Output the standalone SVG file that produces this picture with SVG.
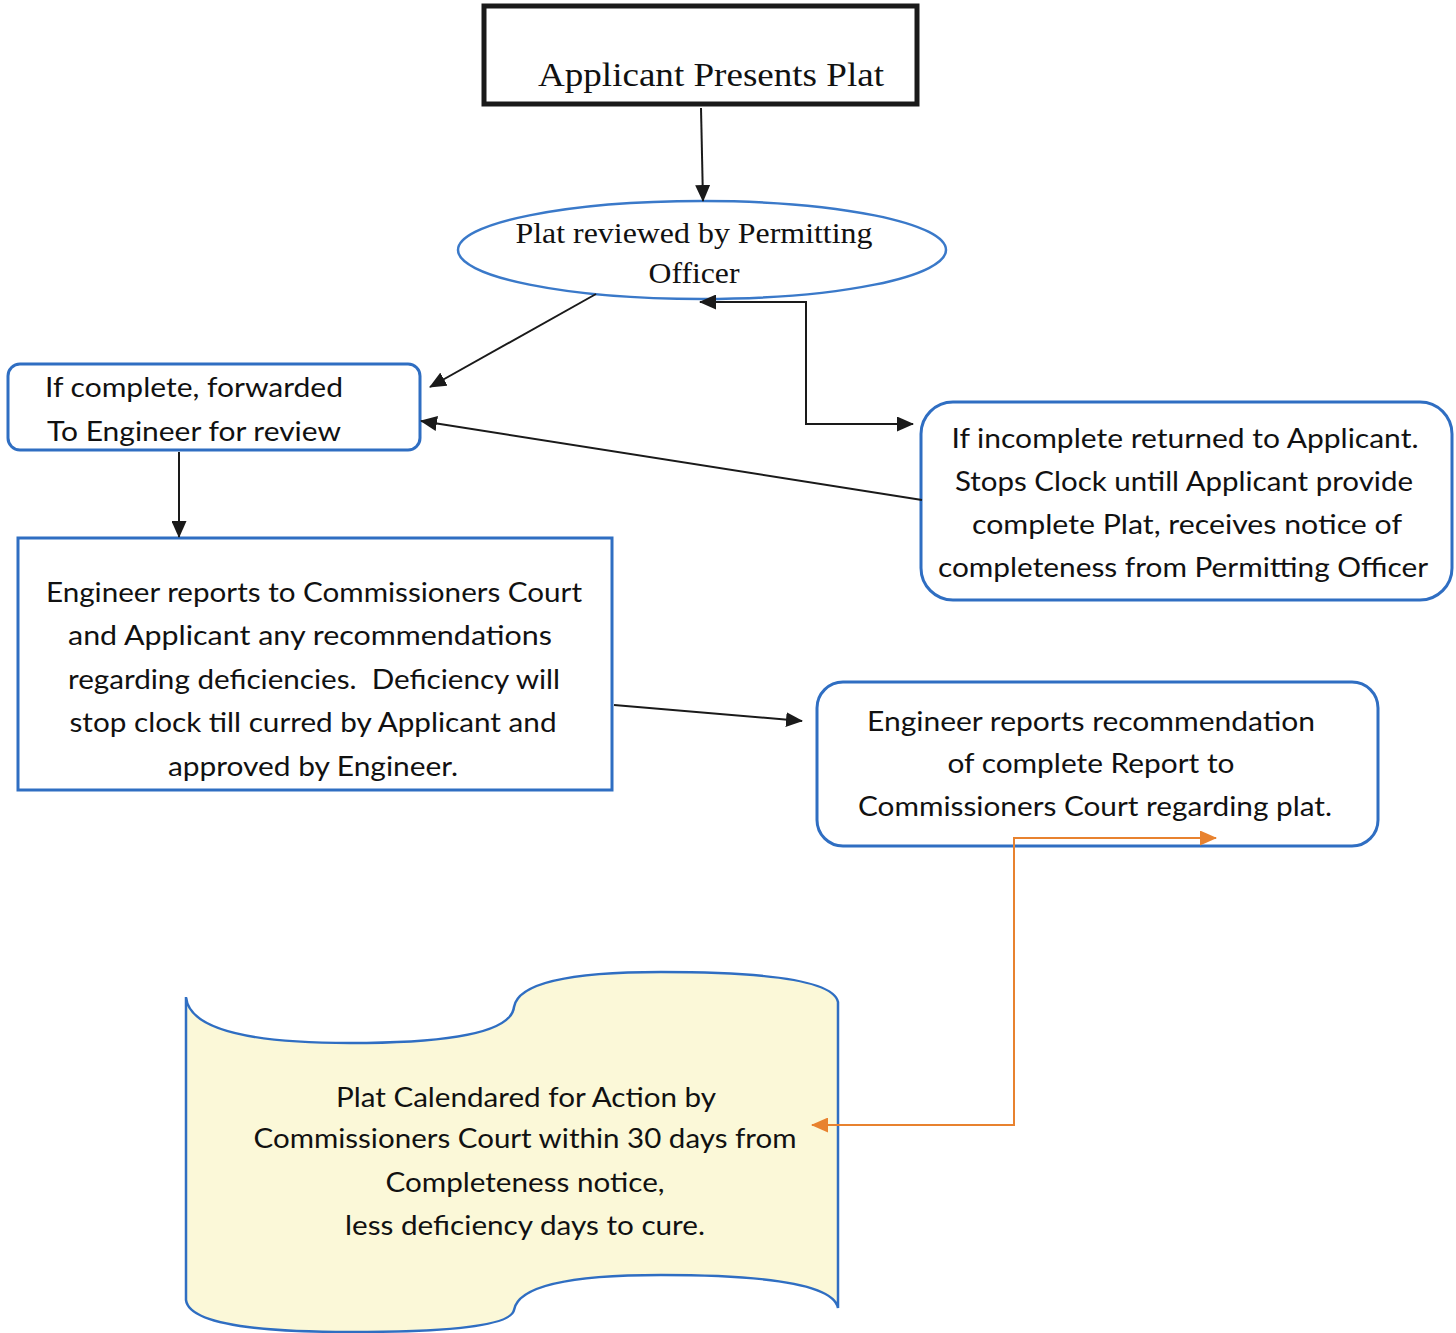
<svg xmlns="http://www.w3.org/2000/svg" width="1456" height="1333" viewBox="0 0 1456 1333">
<style>
.serif{font-family:"Liberation Serif","Times New Roman",serif;fill:#111}
.sans{font-family:Lato,"Open Sans","Liberation Sans",sans-serif;fill:#111;font-size:27px}
.blue{fill:#fff;stroke:#2f6ec2;stroke-width:3}
.con{fill:none;stroke:#1a1a1a;stroke-width:2}
.org{fill:none;stroke:#e8822f;stroke-width:2}
</style>
<defs>
<marker id="ah" markerUnits="userSpaceOnUse" markerWidth="17" markerHeight="15" refX="16" refY="7.5" orient="auto-start-reverse">
<path d="M0,0 L17,7.5 L0,15 Z" fill="#1a1a1a"/>
</marker>
<marker id="ao" markerUnits="userSpaceOnUse" markerWidth="17" markerHeight="15" refX="16" refY="7.5" orient="auto-start-reverse">
<path d="M0,0 L17,7.5 L0,15 Z" fill="#e8822f"/>
</marker>
</defs>
<rect width="1456" height="1333" fill="#fff"/>

<g id="n1">
<rect x="484" y="6" width="433" height="98" fill="#fff" stroke="#1a1a1a" stroke-width="5"/>
<text class="serif" x="711" y="86" font-size="34" text-anchor="middle" textLength="346" lengthAdjust="spacingAndGlyphs">Applicant Presents Plat</text>
</g>

<g id="n2">
<ellipse cx="702" cy="250" rx="244" ry="49" fill="#fff" stroke="#3a79c9" stroke-width="2.5"/>
<text class="serif" x="694" y="243" font-size="29" text-anchor="middle" textLength="357" lengthAdjust="spacingAndGlyphs">Plat reviewed by Permitting</text>
<text class="serif" x="694" y="283" font-size="29" text-anchor="middle" textLength="91" lengthAdjust="spacingAndGlyphs">Officer</text>
</g>

<g id="n3">
<rect class="blue" x="8" y="364" width="412" height="86" rx="12"/>
<text class="sans" x="194" y="397" text-anchor="middle" textLength="298" lengthAdjust="spacingAndGlyphs">If complete, forwarded</text>
<text class="sans" x="194" y="441" text-anchor="middle" textLength="294" lengthAdjust="spacingAndGlyphs">To Engineer for review</text>
</g>

<g id="n4">
<rect class="blue" x="921" y="402" width="531" height="198" rx="32"/>
<text class="sans" x="1185" y="448" text-anchor="middle" textLength="467" lengthAdjust="spacingAndGlyphs">If incomplete returned to Applicant.</text>
<text class="sans" x="1184" y="491" text-anchor="middle" textLength="458" lengthAdjust="spacingAndGlyphs">Stops Clock untill Applicant provide</text>
<text class="sans" x="1187" y="534" text-anchor="middle" textLength="430" lengthAdjust="spacingAndGlyphs">complete Plat, receives notice of</text>
<text class="sans" x="1183" y="577" text-anchor="middle" textLength="490" lengthAdjust="spacingAndGlyphs">completeness from Permitting Officer</text>
</g>

<g id="n5">
<rect class="blue" x="18" y="538" width="594" height="252"/>
<text class="sans" x="314" y="602" text-anchor="middle" textLength="536" lengthAdjust="spacingAndGlyphs">Engineer reports to Commissioners Court</text>
<text class="sans" x="310" y="645" text-anchor="middle" textLength="484" lengthAdjust="spacingAndGlyphs">and Applicant any recommendations</text>
<text class="sans" x="314" y="689" text-anchor="middle" textLength="492" lengthAdjust="spacingAndGlyphs" xml:space="preserve">regarding deficiencies.  Deficiency will</text>
<text class="sans" x="313" y="732" text-anchor="middle" textLength="487" lengthAdjust="spacingAndGlyphs">stop clock till curred by Applicant and</text>
<text class="sans" x="313" y="776" text-anchor="middle" textLength="290" lengthAdjust="spacingAndGlyphs">approved by Engineer.</text>
</g>

<g id="n6">
<rect class="blue" x="817" y="682" width="561" height="164" rx="26"/>
<text class="sans" x="1091" y="731" text-anchor="middle" textLength="448" lengthAdjust="spacingAndGlyphs">Engineer reports recommendation</text>
<text class="sans" x="1091" y="773" text-anchor="middle" textLength="287" lengthAdjust="spacingAndGlyphs">of complete Report to</text>
<text class="sans" x="1095" y="816" text-anchor="middle" textLength="474" lengthAdjust="spacingAndGlyphs">Commissioners Court regarding plat.</text>
</g>

<g id="n7">
<path d="M186,997 Q190,1043 350,1043 Q510,1043 514,1007 Q520,972 661,972 Q832,972 838,1002 L838,1308 Q832,1275 661,1275 Q520,1275 514,1310 Q510,1332 350,1332 Q190,1332 186,1300 Z" fill="#fbf8d8" stroke="#2f6ec2" stroke-width="2.5"/>
<text class="sans" x="526" y="1107" text-anchor="middle" textLength="380" lengthAdjust="spacingAndGlyphs">Plat Calendared for Action by</text>
<text class="sans" x="525" y="1148" text-anchor="middle" textLength="543" lengthAdjust="spacingAndGlyphs">Commissioners Court within 30 days from</text>
<text class="sans" x="525" y="1192" text-anchor="middle" textLength="279" lengthAdjust="spacingAndGlyphs">Completeness notice,</text>
<text class="sans" x="525" y="1235" text-anchor="middle" textLength="360" lengthAdjust="spacingAndGlyphs">less deficiency days to cure.</text>
</g>

<g id="connectors">
<line class="con" x1="701" y1="108" x2="703" y2="201" marker-end="url(#ah)"/>
<line class="con" x1="596" y1="294" x2="430" y2="387" marker-end="url(#ah)"/>
<polyline class="con" points="700,302 806,302 806,424 913,424" stroke-width="2.5" marker-start="url(#ah)" marker-end="url(#ah)"/>
<line class="con" x1="922" y1="500" x2="421" y2="421" marker-end="url(#ah)"/>
<line class="con" x1="179" y1="452" x2="179" y2="537" marker-end="url(#ah)"/>
<line class="con" x1="614" y1="705" x2="802" y2="721" marker-end="url(#ah)"/>
<polyline class="org" points="1216,838 1014,838 1014,1125 812,1125" marker-start="url(#ao)" marker-end="url(#ao)"/>
</g>
</svg>
